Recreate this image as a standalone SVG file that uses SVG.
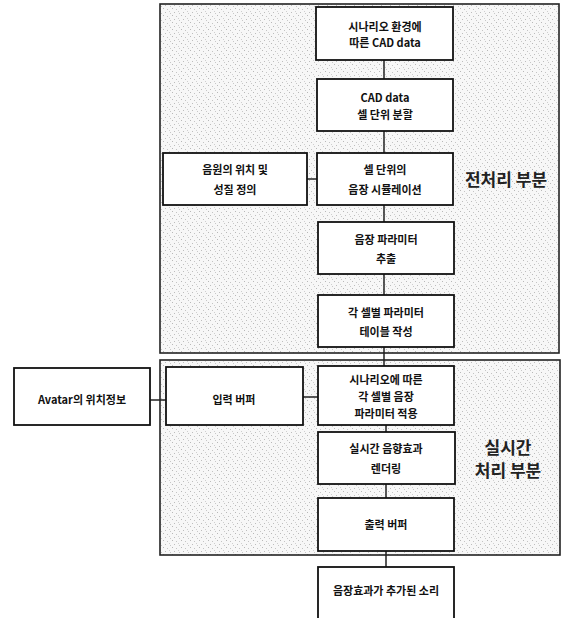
<svg xmlns="http://www.w3.org/2000/svg" width="562" height="618" viewBox="0 0 562 618">
<defs>
<pattern id="speck" width="9" height="7" patternUnits="userSpaceOnUse">
<rect width="9" height="7" fill="#f7f7f7"/>
<rect x="1" y="1" width="1" height="1" fill="#b8b8b8"/>
<rect x="5" y="2" width="1" height="1" fill="#c4c4c4"/>
<rect x="3" y="5" width="1" height="1" fill="#bdbdbd"/>
<rect x="7" y="4" width="1" height="1" fill="#cfcfcf"/>
<rect x="8" y="6" width="1" height="1" fill="#c8c8c8"/>
</pattern>
</defs>
<style>
.frame{fill:url(#speck);stroke:#222;stroke-width:1.6}
.box{fill:#fff;stroke:#111;stroke-width:1.8}
.t{font-family:"Noto Sans CJK KR","Noto Sans",sans-serif;font-size:11px;font-weight:bold;fill:#111;text-anchor:middle}
.big{font-family:"Noto Sans CJK KR","Noto Sans",sans-serif;font-size:17px;font-weight:bold;fill:#222;text-anchor:middle}
.c{stroke:#222;stroke-width:1.5;fill:none}
</style>
<rect width="562" height="618" fill="#fff"/>
<g id="frame-pre"><rect class="frame" x="160" y="4" width="399" height="349"/><text class="big" x="506" y="186">전처리 부분</text></g>
<g id="frame-rt"><rect class="frame" x="160" y="360" width="400" height="195"/><text class="big" x="508" y="454">실시간</text><text class="big" x="508" y="477">처리 부분</text></g>
<g id="connectors">
<line class="c" x1="384" y1="60" x2="384" y2="79"/>
<line class="c" x1="384" y1="131" x2="384" y2="153"/>
<line class="c" x1="307" y1="179" x2="317" y2="179"/>
<line class="c" x1="384" y1="205" x2="384" y2="222"/>
<line class="c" x1="384" y1="274" x2="384" y2="295"/>
<line class="c" x1="384" y1="347" x2="384" y2="366"/>
<line class="c" x1="150" y1="400" x2="166" y2="400"/>
<line class="c" x1="303" y1="397" x2="318" y2="397"/>
<line class="c" x1="386" y1="425" x2="386" y2="432"/>
<line class="c" x1="386" y1="484" x2="386" y2="498"/>
<line class="c" x1="386" y1="551" x2="386" y2="567"/>
</g>
<g id="n1"><rect class="box" x="316" y="7" width="137" height="53"/><text class="t" x="385" y="31">시나리오 환경에</text><text class="t" x="385" y="47">따른 CAD data</text></g>
<g id="n2"><rect class="box" x="317" y="79" width="136" height="52"/><text class="t" x="385" y="102">CAD data</text><text class="t" x="385" y="119">셀 단위 분할</text></g>
<g id="n3"><rect class="box" x="163" y="153" width="144" height="52"/><text class="t" x="235" y="174">음원의 위치 및</text><text class="t" x="235" y="194">성질 정의</text></g>
<g id="n4"><rect class="box" x="317" y="153" width="136" height="52"/><text class="t" x="385" y="174">셀 단위의</text><text class="t" x="385" y="194">음장 시뮬레이션</text></g>
<g id="n5"><rect class="box" x="318" y="222" width="136" height="52"/><text class="t" x="386" y="244">음장 파라미터</text><text class="t" x="386" y="263">추출</text></g>
<g id="n6"><rect class="box" x="318" y="295" width="136" height="52"/><text class="t" x="386" y="317">각 셀별 파라미터</text><text class="t" x="386" y="336">테이블 작성</text></g>
<g id="n7"><rect class="box" x="14" y="368" width="136" height="57"/><text class="t" x="82" y="404">Avatar의 위치정보</text></g>
<g id="n8"><rect class="box" x="166" y="367" width="137" height="58"/><text class="t" x="234" y="404">입력 버퍼</text></g>
<g id="n9"><rect class="box" x="318" y="366" width="136" height="59"/><text class="t" x="386" y="384">시나리오에 따른</text><text class="t" x="386" y="401">각 셀별 음장</text><text class="t" x="386" y="418">파라미터 적용</text></g>
<g id="n10"><rect class="box" x="318" y="432" width="137" height="52"/><text class="t" x="386" y="453">실시간 음향효과</text><text class="t" x="386" y="473">렌더링</text></g>
<g id="n11"><rect class="box" x="318" y="498" width="136" height="53"/><text class="t" x="386" y="529">출력 버퍼</text></g>
<g id="n12"><rect class="box" x="318" y="567" width="136" height="54"/><text class="t" x="386" y="595">음장효과가 추가된 소리</text></g>
</svg>
